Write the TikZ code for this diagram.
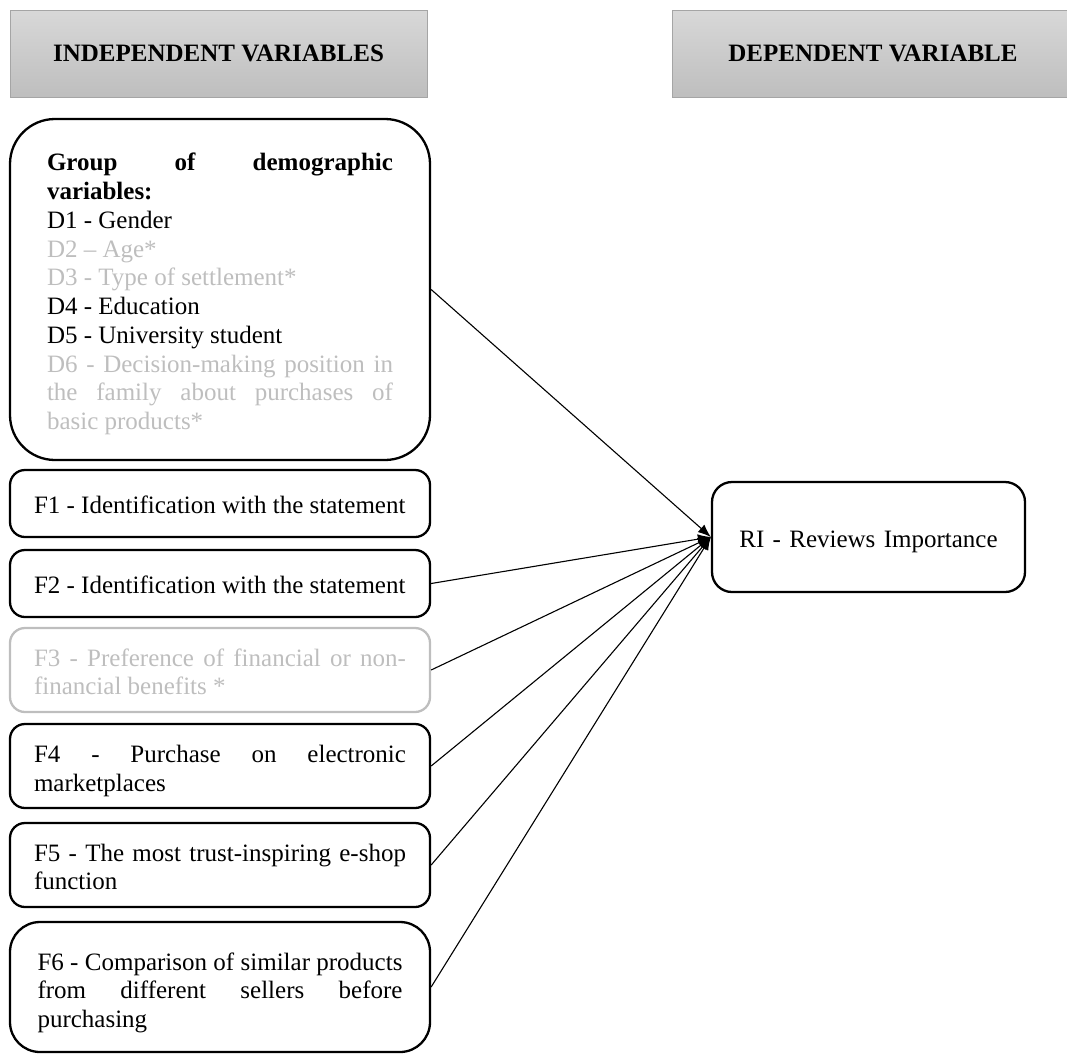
\documentclass[tikz,border=0pt]{standalone}
\usepackage{fontspec}
\setmainfont{Liberation Serif}
\usetikzlibrary{arrows.meta,shadings}
\definecolor{hdtop}{RGB}{216,216,216}
\definecolor{hdbot}{RGB}{190,190,190}
\definecolor{hdborder}{RGB}{165,165,165}
\definecolor{faded}{RGB}{190,190,190}
\newcommand{\txtdrop}[1]{\rule{0pt}{\dimexpr 17pt+2\dimexpr #1\relax\relax}}
\tikzset{
  txt/.style={font=\fontsize{25}{28.75}\selectfont},
  header/.style={txt, font=\fontsize{25}{28.75}\selectfont\bfseries, draw=hdborder, line width=0.8pt,
    top color=hdtop, bottom color=hdbot, minimum height=87pt, inner sep=0pt},
  varbox/.style={txt, draw, line width=2.3pt, rounded corners=15pt, minimum width=420pt,
    inner sep=0pt, align=justify},
  fadedbox/.style={varbox, draw=faded, text=faded},
  link/.style={line width=1.1pt, -{Latex[length=13pt,width=10pt]}},
}
\begin{document}
\begin{tikzpicture}[x=1pt,y=-1pt]
\useasboundingbox (0,0) rectangle (1067,1055);
% headers
\node[header, minimum width=417pt] (hind) at (218.5,53.5) {INDEPENDENT VARIABLES};
\node[header, minimum width=402pt] (hdep) at (873,53.5) {DEPENDENT VARIABLE};
% demographic group
\node[varbox, rounded corners=45pt, minimum height=341pt, text width=346pt] (demo) at (220,289.5)
  {\txtdrop{5pt}\textbf{Group of demographic\linebreak variables:}\\
   D1 - Gender\\
   {\color{faded}D2 – Age*}\\
   {\color{faded}D3 - Type of settlement*}\\
   D4 - Education\\
   D5 - University student\\
   {\color{faded}D6 - Decision-making position in\linebreak the family about purchases of\linebreak basic products*}};
% factor boxes
\node[varbox, minimum height=67pt, text width=372pt] (f1) at (220,503.5)
  {\txtdrop{2pt}F1 - Identification with the statement};
\node[varbox, minimum height=67pt, text width=372pt] (f2) at (220,583.5)
  {\txtdrop{2pt}F2 - Identification with the statement};
\node[fadedbox, minimum height=84pt, text width=372pt] (f3) at (220,670)
  {\txtdrop{2pt}F3 - Preference of financial or non-\linebreak financial benefits *};
\node[varbox, minimum height=84pt, text width=372pt] (f4) at (220,766)
  {\txtdrop{5pt}F4 - Purchase on electronic\linebreak marketplaces};
\node[varbox, minimum height=84pt, text width=372pt] (f5) at (220,865)
  {\txtdrop{2pt}F5 - The most trust-inspiring e-shop\linebreak function};
\node[varbox, rounded corners=30pt, minimum height=130pt, text width=365pt] (f6) at (220,987)
  {\txtdrop{6pt}F6 - Comparison of similar products\linebreak from different sellers before\linebreak purchasing};
% dependent variable
\node[varbox, rounded corners=20pt, minimum width=313pt, minimum height=110pt, text width=300pt, align=center] (ri) at (868.5,537)
  {\txtdrop{5pt}RI - Reviews Importance};
% connectors
\draw[link] (demo.east) -- (ri.west);
\draw[link] (f2.east) -- (ri.west);
\draw[link] (f3.east) -- (ri.west);
\draw[link] (f4.east) -- (ri.west);
\draw[link] (f5.east) -- (ri.west);
\draw[link] (f6.east) -- (ri.west);
\end{tikzpicture}
\end{document}
